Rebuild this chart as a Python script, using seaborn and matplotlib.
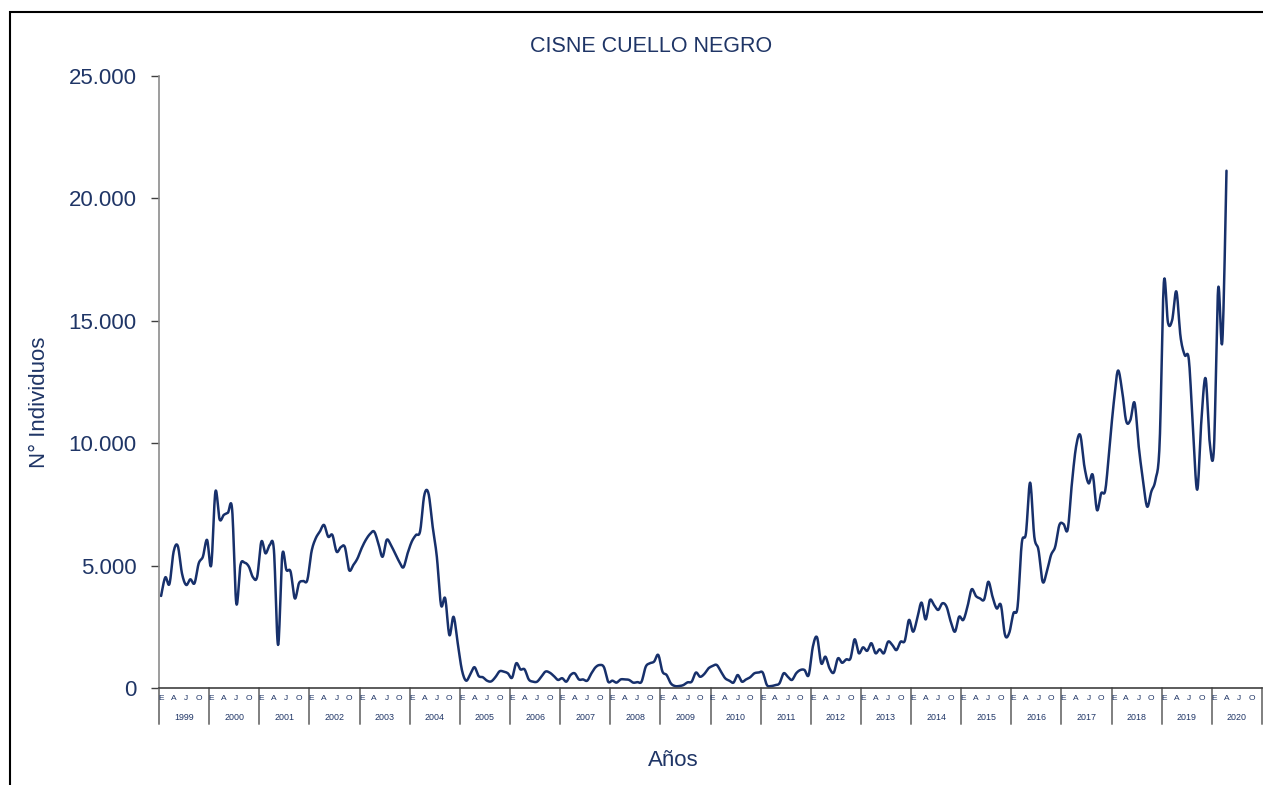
import numpy as np
import pandas as pd
import matplotlib
matplotlib.use("Agg")
import matplotlib.pyplot as plt
import seaborn as sns
from matplotlib.patches import Rectangle
from matplotlib.ticker import FuncFormatter

# ---------------- data (monthly counts, Jan 1999 - Apr 2020) ----------------
years = list(range(1999, 2021))
month_labels = ["E", "A", "J", "O"]
month_label_idx = [0, 3, 6, 9]

v1999 = [3760, 4520, 4250, 5570, 5800, 4680, 4210, 4440, 4280, 5090, 5360, 6050]
v2000 = [5020, 8020, 6890, 7070, 7160, 7300, 3460, 5020, 5120, 4960, 4520, 4550]
v2001 = [5980, 5500, 5840, 5640, 1760, 5430, 4820, 4750, 3660, 4280, 4370, 4410]
v2002 = [5570, 6110, 6390, 6660, 6180, 6250, 5570, 5750, 5750, 4820, 5020, 5290]
v2003 = [5710, 6050, 6290, 6390, 5910, 5360, 6050, 5840, 5500, 5160, 4930, 5500]
v2004 = [5980, 6250, 6410, 7880, 7950, 6590, 5360, 3390, 3660, 2160, 2910, 1830]
v2005 = [735, 300, 560, 850, 490, 440, 300, 270, 440, 680, 670, 600]
v2006 = [420, 1010, 760, 760, 350, 260, 260, 460, 670, 630, 490, 330]
v2007 = [400, 260, 530, 600, 350, 350, 300, 600, 850, 940, 850, 260]
v2008 = [300, 220, 350, 350, 330, 220, 240, 260, 870, 1010, 1080, 1350]
v2009 = [670, 530, 190, 80, 80, 120, 230, 260, 630, 460, 570, 800]
v2010 = [900, 940, 670, 400, 300, 220, 530, 260, 350, 440, 600, 630]
v2011 = [630, 120, 80, 120, 190, 600, 460, 330, 600, 735, 735, 530]
v2012 = [1690, 2070, 1010, 1280, 800, 630, 1210, 1030, 1170, 1210, 1990, 1420]
v2013 = [1660, 1520, 1830, 1420, 1580, 1420, 1890, 1760, 1550, 1890, 1930, 2780]
v2014 = [2300, 2850, 3490, 2800, 3590, 3390, 3190, 3460, 3320, 2710, 2300, 2910]
v2015 = [2780, 3320, 4030, 3760, 3660, 3620, 4340, 3730, 3250, 3390, 2160, 2250]
v2016 = [3050, 3320, 5910, 6320, 8390, 6180, 5640, 4340, 4750, 5430, 5770, 6660]
v2017 = [6700, 6480, 8360, 9860, 10330, 9040, 8360, 8700, 7270, 7950, 8090, 9860]
v2018 = [11630, 12960, 12170, 10900, 10950, 11650, 9860, 8500, 7410, 8020, 8500, 10000]
v2019 = [16550, 14920, 15030, 16200, 14350, 13600, 13400, 10500, 8100, 10950, 12650, 10000]
v2020 = [9800, 16300, 14150, 21130]

series = (v1999 + v2000 + v2001 + v2002 + v2003 + v2004 + v2005 + v2006 + v2007 +
          v2008 + v2009 + v2010 + v2011 + v2012 + v2013 + v2014 + v2015 + v2016 +
          v2017 + v2018 + v2019 + v2020)
values = np.array(series, dtype=float)
xpos = np.arange(len(values)) + 0.5


def catmull_rom(x, y, steps=12):
    """Smoothed line through every point (like a spreadsheet 'smoothed line')."""
    px = np.concatenate([[x[0]], x, [x[-1]]])
    py = np.concatenate([[y[0]], y, [y[-1]]])
    xs, ys = [], []
    t = np.linspace(0, 1, steps, endpoint=False)
    for i in range(1, len(px) - 2):
        for arr, out in ((px, xs), (py, ys)):
            p0, p1, p2, p3 = arr[i - 1], arr[i], arr[i + 1], arr[i + 2]
            out.extend(0.5 * (2 * p1 + (-p0 + p2) * t +
                              (2 * p0 - 5 * p1 + 4 * p2 - p3) * t ** 2 +
                              (-p0 + 3 * p1 - 3 * p2 + p3) * t ** 3))
    xs.append(x[-1])
    ys.append(y[-1])
    return np.array(xs), np.array(ys)


sx, sy = catmull_rom(xpos, values)
df = pd.DataFrame({"mes": sx, "individuos": sy})

# ---------------- style ----------------
sns.set_theme(style="white")
plt.rcParams["font.family"] = ["Liberation Sans", "DejaVu Sans"]

navy = "#1F3566"
line_color = "#17306B"

W, H = 1263, 785
fig = plt.figure(figsize=(W / 100, H / 100), dpi=100)
fig.patch.set_facecolor("white")

ax_left, ax_right, ax_top, ax_bottom = 159, 1262, 76, 688
ax = fig.add_axes([ax_left / W, 1 - ax_bottom / H,
                   (ax_right - ax_left) / W, (ax_bottom - ax_top) / H])

sns.lineplot(data=df, x="mes", y="individuos", ax=ax, color=line_color,
             linewidth=1.8, sort=False, estimator=None)

n_years = len(years)
ax.set_xlim(0, 12 * n_years)
ax.set_ylim(0, 25000)
ax.set_yticks(range(0, 25001, 5000))
ax.yaxis.set_major_formatter(FuncFormatter(lambda v, p: f"{int(v):,}".replace(",", ".")))
ax.set_xticks([])
ax.set_xlabel("")
ax.set_ylabel("")
ax.tick_params(axis="y", which="major", direction="out", length=6, width=1,
               color="#404040", pad=10, labelsize=16, labelcolor=navy, left=True)

for s in ("top", "right"):
    ax.spines[s].set_visible(False)
ax.spines["left"].set_color("#8C8C8C")
ax.spines["left"].set_linewidth(1.2)
ax.spines["bottom"].set_color("#404040")
ax.spines["bottom"].set_linewidth(1.2)

# category axis: year boxes with month initials
trans = ax.get_xaxis_transform()
axh = ax_bottom - ax_top
sep_len = 36 / axh
for k in range(n_years + 1):
    ax.plot([12 * k, 12 * k], [0, -sep_len], transform=trans, color="#7F7F7F",
            lw=1.4, clip_on=False)
for k, yr in enumerate(years):
    for lab, mi in zip(month_labels, month_label_idx):
        ax.text(12 * k + mi + 0.5, -11 / axh, lab, transform=trans, ha="center",
                va="center", fontsize=6, color=navy)
    ax.text(12 * k + 6, -29 / axh, str(yr), transform=trans, ha="center",
            va="center", fontsize=6.4, color=navy)

# titles
fig.text(651 / W, 1 - 46 / H, "CISNE CUELLO NEGRO", ha="center", va="center",
         fontsize=15.5, color=navy)
fig.text(40 / W, 1 - 402 / H, "N° Individuos", ha="center", va="center",
         rotation=90, fontsize=16, color=navy)
fig.text(673 / W, 1 - 760 / H, "Años", ha="center", va="center",
         fontsize=16, color=navy)

# outer frame of the chart area (right side runs along the image edge)
fig.add_artist(Rectangle((10 / W, -0.05), (W - 10) / W + 0.01, 1 - 12 / H + 0.05,
                         transform=fig.transFigure, fill=False,
                         edgecolor="black", lw=1.5))

fig.savefig("out.png", dpi=100, facecolor="white")
